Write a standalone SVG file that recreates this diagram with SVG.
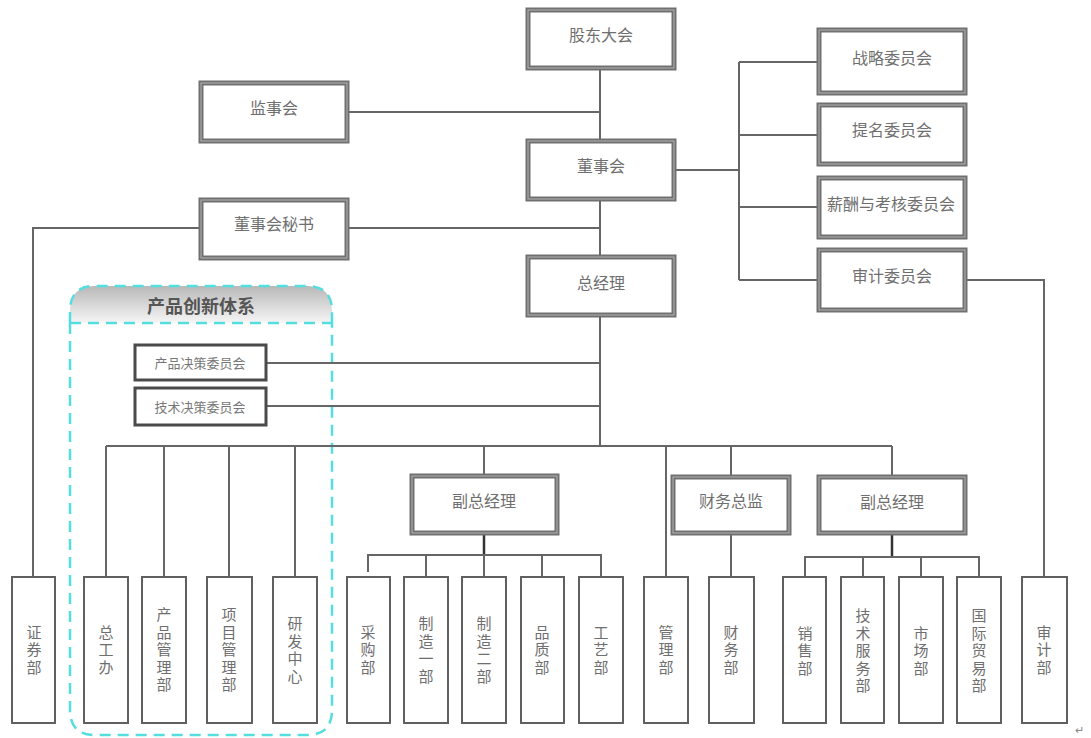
<svg xmlns="http://www.w3.org/2000/svg" width="1091" height="738" viewBox="0 0 1091 738">
<defs>
<linearGradient id="hdr" x1="0" y1="0" x2="0" y2="1">
<stop offset="0" stop-color="#b8b8b8"/>
<stop offset="1" stop-color="#f6f6f6"/>
</linearGradient>
</defs>
<style>
text{font-family:"Noto Sans CJK SC","Noto Sans",sans-serif;fill:#6f6f6f;}
.lbl{font-size:16px;text-anchor:middle;dominant-baseline:central;}
.sm{font-size:13px;text-anchor:middle;dominant-baseline:central;fill:#777;}
.vt{font-size:15px;text-anchor:middle;writing-mode:vertical-rl;letter-spacing:2.5px;}
.o{fill:#fff;stroke:#707070;stroke-width:5;}
.i{fill:none;stroke:#a8a8a8;stroke-width:1.2;}
.th{fill:#fff;stroke:#4a4a4a;stroke-width:3;}
.dp{fill:#fff;stroke:#606060;stroke-width:2;}
.ln{fill:none;stroke:#666;stroke-width:2;}
.dk{fill:none;stroke:#333;stroke-width:2.5;}
.cy{fill:none;stroke:#55dede;stroke-width:2.5;stroke-dasharray:11 7;}
</style>
<rect width="1091" height="738" fill="#fff"/>

<g id="frame">
<path d="M70,323 L70,311 Q70,286 95,286 L307,286 Q332,286 332,311 L332,323 Z" fill="url(#hdr)"/>
<path class="cy" d="M70,323 L70,311 Q70,286 95,286 L307,286 Q332,286 332,311 L332,323"/>
<path class="cy" d="M70,323 L332,323"/>
<path class="cy" d="M70,323 L70,710 Q70,735 95,735 L307,735 Q332,735 332,710 L332,323"/>
<text x="201" y="305" style="font-size:18px;text-anchor:middle;dominant-baseline:central;fill:#555;font-weight:bold">产品创新体系</text>
</g>

<g id="connectors">
<path class="ln" d="M600,68 V141 M600,199 V257 M600,315 V446"/>
<path class="ln" d="M347,112 H600 M347,228 H600"/>
<path class="ln" d="M201,228 H33 V577"/>
<path class="ln" d="M674,170 H739 M739,62 V280 M739,62 H819 M739,135 H819 M739,207 H819 M739,280 H819"/>
<path class="ln" d="M965,280 H1044 V577"/>
<path class="ln" d="M266,363 H600 M266,406 H600"/>
<path class="ln" d="M106,446 H892"/>
<path class="ln" d="M106,446 V577 M164,446 V577 M229,446 V577 M295,446 V577 M666,446 V577"/>
<path class="ln" d="M484,446 V476 M731,446 V477 M892,446 V477 M731,533 V577"/>
<path class="dk" d="M484,533 V555"/>
<path class="ln" d="M368,572 V555 H601 V577 M426,555 V577 M484,555 V577 M542,555 V577"/>
<path class="dk" d="M892,533 V557"/>
<path class="ln" d="M805,577 V557 H979 V577 M863,557 V577 M921,557 V577"/>
</g>

<g id="n-gudong"><rect class="o" x="528" y="10" width="146" height="58"/><rect class="i" x="528" y="10" width="146" height="58"/><text class="lbl" x="601" y="34">股东大会</text></g>
<g id="n-jianshi"><rect class="o" x="201" y="83" width="146" height="58"/><rect class="i" x="201" y="83" width="146" height="58"/><text class="lbl" x="274" y="107">监事会</text></g>
<g id="n-dongshi"><rect class="o" x="528" y="141" width="146" height="58"/><rect class="i" x="528" y="141" width="146" height="58"/><text class="lbl" x="601" y="165">董事会</text></g>
<g id="n-mishu"><rect class="o" x="201" y="200" width="146" height="58"/><rect class="i" x="201" y="200" width="146" height="58"/><text class="lbl" x="274" y="223">董事会秘书</text></g>
<g id="n-zongjingli"><rect class="o" x="528" y="257" width="146" height="58"/><rect class="i" x="528" y="257" width="146" height="58"/><text class="lbl" x="601" y="282">总经理</text></g>
<g id="n-zhanlue"><rect class="o" x="819" y="30" width="146" height="63"/><rect class="i" x="819" y="30" width="146" height="63"/><text class="lbl" x="892" y="57">战略委员会</text></g>
<g id="n-timing"><rect class="o" x="819" y="105" width="146" height="59"/><rect class="i" x="819" y="105" width="146" height="59"/><text class="lbl" x="892" y="129">提名委员会</text></g>
<g id="n-xinchou"><rect class="o" x="819" y="178" width="146" height="59"/><rect class="i" x="819" y="178" width="146" height="59"/><text class="lbl" x="891" y="203">薪酬与考核委员会</text></g>
<g id="n-shenjiwei"><rect class="o" x="819" y="250" width="146" height="60"/><rect class="i" x="819" y="250" width="146" height="60"/><text class="lbl" x="892" y="275">审计委员会</text></g>
<g id="n-fuzong1"><rect class="o" x="412" y="476" width="145" height="57"/><rect class="i" x="412" y="476" width="145" height="57"/><text class="lbl" x="484" y="500">副总经理</text></g>
<g id="n-caiwuzongjian"><rect class="o" x="673" y="477" width="116" height="56"/><rect class="i" x="673" y="477" width="116" height="56"/><text class="lbl" x="731" y="500">财务总监</text></g>
<g id="n-fuzong2"><rect class="o" x="819" y="477" width="146" height="56"/><rect class="i" x="819" y="477" width="146" height="56"/><text class="lbl" x="892" y="501">副总经理</text></g>

<g id="n-chanpinjuece"><rect class="th" x="135" y="345" width="131" height="35"/><text class="sm" x="200" y="362">产品决策委员会</text></g>
<g id="n-jishujuece"><rect class="th" x="135" y="388" width="131" height="37"/><text class="sm" x="200" y="406">技术决策委员会</text></g>

<g id="d-zhengquan"><rect class="dp" x="12" y="577" width="43" height="146"/><text class="vt" x="34" y="651">证券部</text></g>
<g id="d-zonggongban"><rect class="dp" x="84" y="577" width="44" height="146"/><text class="vt" x="106" y="651">总工办</text></g>
<g id="d-chanpinguanli"><rect class="dp" x="142" y="577" width="44" height="146"/><text class="vt" x="164" y="651">产品管理部</text></g>
<g id="d-xiangmuguanli"><rect class="dp" x="207" y="577" width="45" height="146"/><text class="vt" x="229" y="651">项目管理部</text></g>
<g id="d-yanfa"><rect class="dp" x="273" y="577" width="44" height="146"/><text class="vt" x="295" y="651">研发中心</text></g>
<g id="d-caigou"><rect class="dp" x="347" y="577" width="43" height="146"/><text class="vt" x="368" y="651">采购部</text></g>
<g id="d-zhizao1"><rect class="dp" x="404" y="577" width="44" height="146"/><text class="vt" x="426" y="651">制造一部</text></g>
<g id="d-zhizao2"><rect class="dp" x="462" y="577" width="44" height="146"/><text class="vt" x="484" y="651">制造二部</text></g>
<g id="d-pinzhi"><rect class="dp" x="521" y="577" width="43" height="146"/><text class="vt" x="542" y="651">品质部</text></g>
<g id="d-gongyi"><rect class="dp" x="579" y="577" width="44" height="146"/><text class="vt" x="601" y="651">工艺部</text></g>
<g id="d-guanli"><rect class="dp" x="644" y="577" width="44" height="146"/><text class="vt" x="666" y="651">管理部</text></g>
<g id="d-caiwu"><rect class="dp" x="709" y="577" width="45" height="146"/><text class="vt" x="731" y="651">财务部</text></g>
<g id="d-xiaoshou"><rect class="dp" x="783" y="577" width="43" height="146"/><text class="vt" x="805" y="652">销售部</text></g>
<g id="d-jishufuwu"><rect class="dp" x="841" y="577" width="43" height="146"/><text class="vt" x="863" y="652">技术服务部</text></g>
<g id="d-shichang"><rect class="dp" x="899" y="577" width="44" height="146"/><text class="vt" x="921" y="652">市场部</text></g>
<g id="d-guojimaoyi"><rect class="dp" x="957" y="577" width="44" height="146"/><text class="vt" x="979" y="652">国际贸易部</text></g>
<g id="d-shenji"><rect class="dp" x="1022" y="577" width="45" height="146"/><text class="vt" x="1044" y="651">审计部</text></g>

<text x="1079" y="729" style="font-size:11px;text-anchor:middle;dominant-baseline:central;fill:#888">↵</text>
</svg>
